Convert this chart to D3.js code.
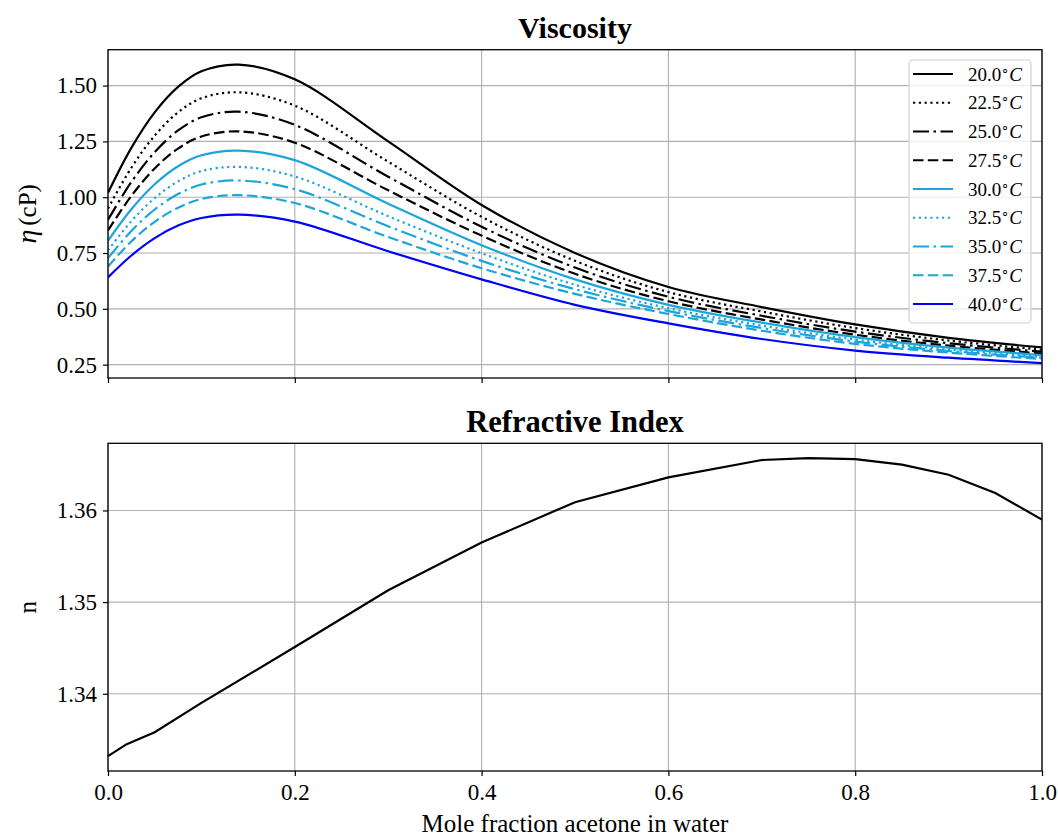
<!DOCTYPE html>
<html>
<head>
<meta charset="utf-8">
<script src="https://cdn.jsdelivr.net/npm/d3@7"></script>
<style>
  body { margin: 0; background: #fff; }
  svg { display: block; }
  text { font-family: "Liberation Serif", "Times New Roman", serif; fill: #000; }
</style>
</head>
<body>
<svg id="chart" width="1058" height="837"></svg>
<script>
// Mole fraction of acetone at which viscosity is tabulated
const moleFraction = [0, 0.025, 0.05, 0.075, 0.1, 0.14, 0.2, 0.3, 0.4, 0.5, 0.6, 0.7, 0.8, 0.9, 1.0];

// Temperatures (°C) of the viscosity curves
const temperatures = [20.0, 22.5, 25.0, 27.5, 30.0, 32.5, 35.0, 37.5, 40.0];

// Viscosity (cP) at each mole fraction, one array per temperature
const visc20_0 = [1.020, 1.221, 1.380, 1.494, 1.564, 1.594, 1.528, 1.250, 0.965, 0.750, 0.598, 0.508, 0.430, 0.370, 0.327];
const visc22_5 = [0.950, 1.132, 1.276, 1.380, 1.443, 1.470, 1.410, 1.159, 0.912, 0.715, 0.575, 0.488, 0.414, 0.358, 0.317];
const visc25_0 = [0.899, 1.068, 1.202, 1.299, 1.358, 1.383, 1.324, 1.092, 0.868, 0.685, 0.554, 0.469, 0.398, 0.346, 0.308];
const visc27_5 = [0.851, 1.006, 1.129, 1.218, 1.272, 1.295, 1.244, 1.031, 0.828, 0.657, 0.534, 0.452, 0.384, 0.335, 0.300];
const visc30_0 = [0.805, 0.946, 1.058, 1.139, 1.188, 1.209, 1.166, 0.971, 0.785, 0.632, 0.518, 0.438, 0.373, 0.326, 0.293];
const visc32_5 = [0.762, 0.893, 0.996, 1.071, 1.117, 1.136, 1.093, 0.915, 0.749, 0.608, 0.503, 0.425, 0.362, 0.318, 0.286];
const visc35_0 = [0.727, 0.849, 0.945, 1.014, 1.057, 1.075, 1.036, 0.870, 0.715, 0.588, 0.490, 0.414, 0.353, 0.311, 0.281];
const visc37_5 = [0.690, 0.802, 0.890, 0.953, 0.992, 1.009, 0.974, 0.822, 0.682, 0.567, 0.477, 0.402, 0.343, 0.304, 0.275];
const visc40_0 = [0.641, 0.739, 0.817, 0.873, 0.907, 0.922, 0.891, 0.758, 0.632, 0.518, 0.435, 0.365, 0.313, 0.281, 0.257];
const viscosity = [visc20_0, visc22_5, visc25_0, visc27_5, visc30_0, visc32_5, visc35_0, visc37_5, visc40_0];

// Refractive index of the mixture
const riFraction = [0, 0.02, 0.05, 0.1, 0.2, 0.3, 0.4, 0.5, 0.6, 0.7, 0.75, 0.8, 0.85, 0.9, 0.95, 1.0];
const riValues   = [1.3332, 1.3345, 1.3358, 1.3390, 1.3451, 1.3513, 1.3565, 1.3609, 1.3636, 1.3655, 1.3657, 1.3656, 1.3650, 1.3639, 1.3619, 1.3590];

// Tick values
const xTicks = [0.0, 0.2, 0.4, 0.6, 0.8, 1.0];
const viscTicks = [0.25, 0.50, 0.75, 1.00, 1.25, 1.50];
const riTicks = [1.34, 1.35, 1.36];

// Line styles per temperature
const lineColors = ["#000000", "#000000", "#000000", "#000000", "#1ba5da", "#1ba5da", "#1ba5da", "#1ba5da", "#0000ff"];
const lineDashes = [null, "2.2,3.6", "16,4.5,2.5,4.5", "10.5,4.3", null, "2.2,3.6", "16,4.5,2.5,4.5", "10.5,4.3", null];

const svg = d3.select("#chart");
const LW = 2.2;

const left = 108, right = 1042;
const topPanel = { top: 49.7, bottom: 378 };
const botPanel = { top: 443.3, bottom: 771 };

const x = d3.scaleLinear().domain([0, 1]).range([left, right]);

function padded(values) {
  const [lo, hi] = d3.extent(values);
  const pad = (hi - lo) * 0.05;
  return [lo - pad, hi + pad];
}

const yV = d3.scaleLinear().domain(padded(viscosity.flat())).range([topPanel.bottom, topPanel.top]);
const yN = d3.scaleLinear().domain(padded(riValues)).range([botPanel.bottom, botPanel.top]);

const gridColor = "#b0b0b0";

function drawPanel(yScale, yTicks, panel, fmt, showXLabels) {
  const g = svg.append("g");
  // grid
  g.selectAll("line.gx").data(xTicks).join("line")
    .attr("x1", d => x(d)).attr("x2", d => x(d))
    .attr("y1", panel.top).attr("y2", panel.bottom)
    .attr("stroke", gridColor).attr("stroke-width", 1.1);
  g.selectAll("line.gy").data(yTicks).join("line")
    .attr("x1", left).attr("x2", right)
    .attr("y1", d => yScale(d)).attr("y2", d => yScale(d))
    .attr("stroke", gridColor).attr("stroke-width", 1.1);

  // axes
  const yAxis = d3.axisLeft(yScale).tickValues(yTicks).tickFormat(fmt).tickSize(5).tickPadding(6);
  const ya = g.append("g").attr("transform", `translate(${left},0)`).call(yAxis);
  const xAxis = d3.axisBottom(x).tickValues(xTicks).tickFormat(showXLabels ? d3.format(".1f") : () => "").tickSize(5).tickPadding(8);
  const xa = g.append("g").attr("transform", `translate(0,${panel.bottom})`).call(xAxis);
  [ya, xa].forEach(a => {
    a.select(".domain").remove();
    a.selectAll(".tick line").attr("stroke", "#000").attr("stroke-width", 1.2);
    a.selectAll(".tick text").attr("font-size", 23).attr("font-family", '"Liberation Serif", serif');
  });
  return g;
}

function frame(panel) {
  svg.append("rect")
    .attr("x", left).attr("y", panel.top)
    .attr("width", right - left).attr("height", panel.bottom - panel.top)
    .attr("fill", "none").attr("stroke", "#000").attr("stroke-width", 1.3);
}

// ---- Viscosity panel ----
drawPanel(yV, viscTicks, topPanel, d3.format(".2f"), false);

svg.append("clipPath").attr("id", "clipTop").append("rect")
  .attr("x", left).attr("y", topPanel.top).attr("width", right - left).attr("height", topPanel.bottom - topPanel.top);

const viscLine = d3.line()
  .x((d, i) => x(moleFraction[i]))
  .y(d => yV(d))
  .curve(d3.curveCatmullRom.alpha(0.5));

svg.append("g").attr("clip-path", "url(#clipTop)")
  .selectAll("path").data(viscosity).join("path")
  .attr("d", d => viscLine(d))
  .attr("fill", "none")
  .attr("stroke", (d, i) => lineColors[i])
  .attr("stroke-width", LW)
  .attr("stroke-dasharray", (d, i) => lineDashes[i]);

frame(topPanel);

svg.append("text")
  .attr("x", (left + right) / 2).attr("y", 38)
  .attr("text-anchor", "middle").attr("font-size", 30).attr("font-weight", "bold")
  .text("Viscosity");

// y label: eta (cP)
const yl1 = svg.append("text")
  .attr("transform", `translate(36,${(topPanel.top + topPanel.bottom) / 2}) rotate(-90)`)
  .attr("text-anchor", "middle").attr("font-size", 25);
yl1.append("tspan").attr("font-style", "italic").attr("font-size", 28).text("η");
yl1.append("tspan").attr("dx", 4).text("(cP)");

// legend
const legend = svg.append("g");
legend.append("rect")
  .attr("x", 909).attr("y", 60).attr("width", 122).attr("height", 263).attr("rx", 4)
  .attr("fill", "#fff").attr("fill-opacity", 0.8).attr("stroke", "#d0d0d0").attr("stroke-width", 1.2);
const rowY = i => 74 + i * 28.75;
legend.selectAll("line").data(temperatures).join("line")
  .attr("x1", 913).attr("x2", 953)
  .attr("y1", (d, i) => rowY(i)).attr("y2", (d, i) => rowY(i))
  .attr("stroke", (d, i) => lineColors[i]).attr("stroke-width", LW)
  .attr("stroke-dasharray", (d, i) => lineDashes[i]);
const lt = legend.selectAll("text").data(temperatures).join("text")
  .attr("x", 968).attr("y", (d, i) => rowY(i) + 6.5)
  .attr("font-size", 19);
lt.append("tspan").text(d => d3.format(".1f")(d));
lt.append("tspan").attr("font-size", 13).attr("dy", -7).text("∘");
lt.append("tspan").attr("font-style", "italic").attr("dy", 7).text("C");

// ---- Refractive index panel ----
drawPanel(yN, riTicks, botPanel, d3.format(".2f"), true);

const riLine = d3.line()
  .x((d, i) => x(riFraction[i]))
  .y(d => yN(d));

svg.append("path")
  .attr("d", riLine(riValues))
  .attr("fill", "none").attr("stroke", "#000").attr("stroke-width", LW);

frame(botPanel);

svg.append("text")
  .attr("x", (left + right) / 2).attr("y", 432)
  .attr("text-anchor", "middle").attr("font-size", 30.5).attr("font-weight", "bold")
  .text("Refractive Index");

svg.append("text")
  .attr("transform", `translate(36,${(botPanel.top + botPanel.bottom) / 2}) rotate(-90)`)
  .attr("text-anchor", "middle").attr("font-size", 25)
  .text("n");

svg.append("text")
  .attr("x", (left + right) / 2).attr("y", 832)
  .attr("text-anchor", "middle").attr("font-size", 25)
  .text("Mole fraction acetone in water");
</script>
</body>
</html>
